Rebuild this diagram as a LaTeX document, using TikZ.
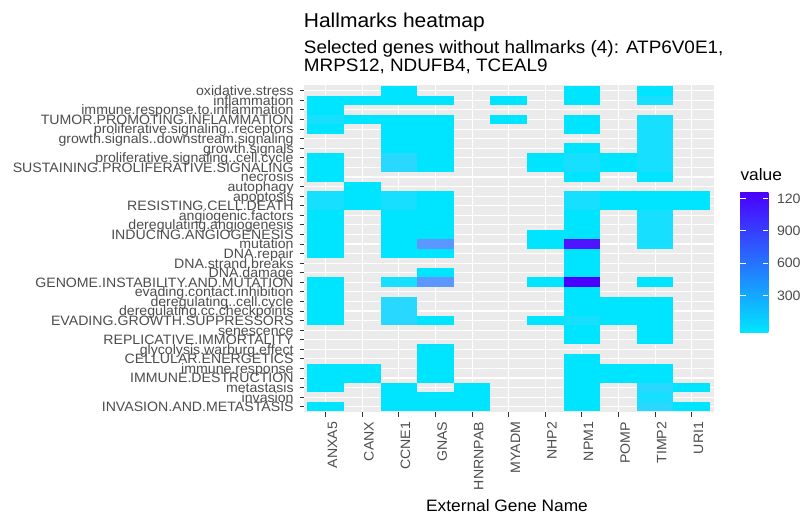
\documentclass[tikz,border=0pt]{standalone}
\usepackage{fontspec}
\setmainfont{Liberation Sans}
\newfontfamily\widefont[FakeStretch=1.05]{Liberation Sans}
\newfontfamily\axisface[FakeStretch=1.04]{Liberation Sans}

\definecolor{panelbg}{HTML}{EBEBEB}
\definecolor{axtext}{HTML}{4D4D4D}
\definecolor{axtick}{HTML}{333333}
\definecolor{v0}{HTML}{00E5FF}
\definecolor{v1}{HTML}{16DFFF}
\definecolor{v2}{HTML}{28D8FF}
\definecolor{vmid}{HTML}{5C96FF}
\definecolor{vhi}{HTML}{5014FF}
\definecolor{vtop}{HTML}{4B00FF}
\definecolor{barmid}{HTML}{5A93FF}

% one heatmap cell: column, row, colour
\newcommand\hmtile[3]{%
  \fill[#3] ({325.7+(#1-1)*36.6-18.3},{90.8+(#2-1)*9.573-4.787}) rectangle ++(36.6,9.573);}

\begin{document}
\begin{tikzpicture}[x=1pt,y=-1pt,
  axisfont/.style={font=\axisface\fontsize{13.6}{14}\selectfont, text=axtext, inner sep=0pt},
  ylab/.style={axisfont, anchor=base east},
  xlab/.style={axisfont, anchor=base east, rotate=90},
  leglab/.style={axisfont, anchor=base west},
  gridline/.style={white, line width=1.1pt},
  axistick/.style={axtick, line width=0.9pt},
  bartick/.style={white, line width=0.9pt},
  titletext/.style={inner sep=0pt, anchor=base west, text=black}]

\useasboundingbox[fill=white] (0,0) rectangle (802,521);

% panel background and grid
\fill[panelbg] (303.7,85.1) rectangle (713.7,412.4);
\foreach \j in {1,...,11}
  \draw[gridline] ({325.7+(\j-1)*36.6},85.1) -- ++(0,327.3);
\foreach \i in {1,...,34}
  \draw[gridline] (303.7,{90.8+(\i-1)*9.573}) -- (713.7,{90.8+(\i-1)*9.573});

% filled cells (row / columns)
\foreach \r/\cols in {
   1/{3,8,10},
   2/{1,2,3,4,6,8,10},
   3/{1},
   4/{1,2,3,4,6,8,10},
   5/{1,3,4,8,10},
   6/{3,4,10},
   7/{3,4,8,10},
   8/{1,3,4,7,8,9,10},
   9/{1,3,4,7,8,9,10},
  10/{1,8,10},
  11/{2},
  12/{1,2,3,4,8,9,10,11},
  13/{1,2,3,4,8,9,10,11},
  14/{1,3,4,8,10},
  15/{1,3,4,8,10},
  16/{1,3,4,7,8,10},
  17/{1,3,4,7,8,10},
  18/{1,3,4,8},
  19/{8},
  20/{4,8},
  21/{1,3,4,7,8,10},
  22/{1,8},
  23/{1,3,8,9,10},
  24/{1,3,8,9,10},
  25/{1,3,4,7,8,9,10},
  26/{8,10},
  27/{8,10},
  28/{4},
  29/{4,8},
  30/{1,2,4,8,9,10},
  31/{1,2,4,8,9,10},
  32/{1,3,5,8,10,11},
  33/{3,4,5,8,10},
  34/{1,3,4,5,8,10,11}}
  \foreach \c in \cols { \hmtile{\c}{\r}{v0} };

% cells with higher values
\foreach \c/\r in {10/2,1/4,10/4,10/5,10/6,10/7,8/8,10/8,8/9,10/9,
                   1/12,3/12,8/12,1/13,3/13,8/13,
                   10/14,10/15,10/16,10/17,3/21,8/25,10/33}
  { \hmtile{\c}{\r}{v1} };
\foreach \c/\r in {3/8,3/9,3/23,3/24,3/25,10/32,10/34}
  { \hmtile{\c}{\r}{v2} };
\hmtile{4}{17}{vmid}
\hmtile{4}{21}{vmid}
\hmtile{8}{17}{vhi}
\hmtile{8}{21}{vtop}

% y axis
\foreach \lab [count=\i] in {oxidative.stress, inflammation,
    immune.response.to.inflammation, TUMOR.PROMOTING.INFLAMMATION,
    proliferative.signaling..receptors, growth.signals..downstream.signaling,
    growth.signals, proliferative.signaling..cell.cycle,
    SUSTAINING.PROLIFERATIVE.SIGNALING, necrosis, autophagy, apoptosis,
    RESISTING.CELL.DEATH, angiogenic.factors, deregulating.angiogenesis,
    INDUCING.ANGIOGENESIS, mutation, DNA.repair, DNA.strand.breaks,
    DNA.damage, GENOME.INSTABILITY.AND.MUTATION, evading.contact.inhibition,
    deregulating..cell.cycle, deregulating.cc.checkpoints,
    EVADING.GROWTH.SUPPRESSORS, senescence, REPLICATIVE.IMMORTALITY,
    glycolysis.warburg.effect, CELLULAR.ENERGETICS, immune.response,
    IMMUNE.DESTRUCTION, metastasis, invasion, INVASION.AND.METASTASIS}
  {
    \draw[axistick] (299.5,{90.8+(\i-1)*9.573}) -- (303.7,{90.8+(\i-1)*9.573});
    \node[ylab] (row\i) at (293.8,{90.8+(\i-1)*9.573+4.9}) {\lab};
  }

% x axis
\foreach \g [count=\j] in {ANXA5,CANX,CCNE1,GNAS,HNRNPAB,MYADM,NHP2,NPM1,POMP,TIMP2,URI1}
  {
    \draw[axistick] ({325.7+(\j-1)*36.6},412.4) -- ++(0,4.2);
    \node[xlab] (gene\j) at ({325.7+(\j-1)*36.6+11.3},421.7) {\g};
  }
\node[inner sep=0pt, anchor=base, font=\widefont\fontsize{16.5}{20}\selectfont]
  (xtitle) at (507,511) {External Gene Name};

% titles
\node[titletext, font=\widefont\fontsize{20}{24}\selectfont] (title) at (303.7,27.3)
  {Hallmarks heatmap};
\node[titletext, font=\widefont\fontsize{18}{22}\selectfont] (sub1) at (303.7,53.3)
  {Selected genes without hallmarks (4): ATP6V0E1,};
\node[titletext, font=\widefont\fontsize{18}{22}\selectfont] (sub2) at (303.7,71.5)
  {MRPS12, NDUFB4, TCEAL9};

% colour bar legend
\node[titletext, font=\widefont\fontsize{16.5}{20}\selectfont] (legtitle) at (740.3,181)
  {value};
\shade[bottom color=v0, middle color=barmid, top color=vtop]
  (740,192.7) rectangle (768.3,332.3);
\foreach \y/\t in {198.4/120, 230.7/900, 263/600, 295.3/300}
  {
    \draw[bartick] (740,\y) -- ++(5.6,0);
    \draw[bartick] (768.3,\y) -- ++(-5.6,0);
    \node[leglab] at (776.8,{\y+4.9}) {\t};
  }
\end{tikzpicture}
\end{document}
